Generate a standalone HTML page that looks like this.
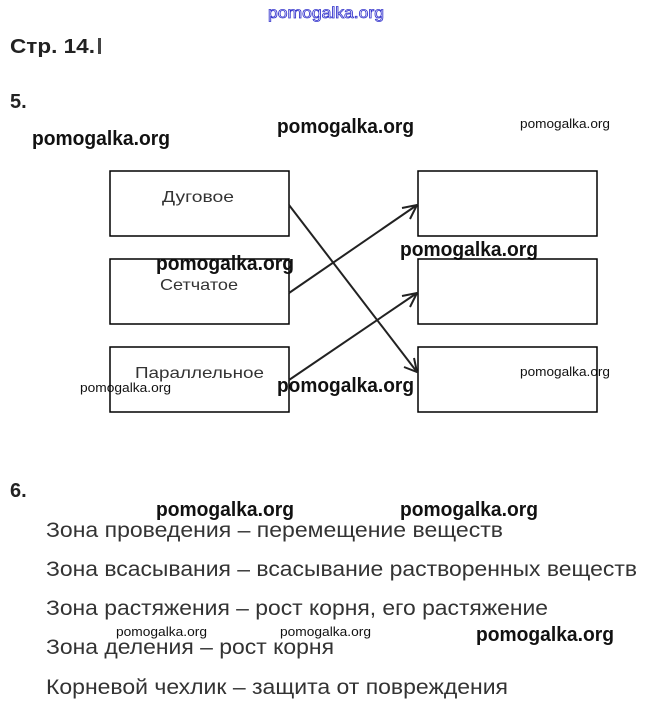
<!DOCTYPE html>
<html><head><meta charset="utf-8"><style>
html,body{margin:0;padding:0;background:#fff;}
svg{display:block;}
</style></head><body>
<svg width="648" height="712" viewBox="0 0 648 712" xmlns="http://www.w3.org/2000/svg" font-family="Liberation Sans, sans-serif">
<text x="268" y="18" font-size="16" fill="#fff" stroke="#3333cc" stroke-width="0.8" textLength="116" lengthAdjust="spacingAndGlyphs">pomogalka.org</text>
<text x="10" y="53" font-size="20" font-weight="bold" fill="#222" textLength="85" lengthAdjust="spacingAndGlyphs">Стр. 14.</text>
<rect x="98" y="38" width="3" height="16" fill="#444"/>
<text x="10" y="108" font-size="20" font-weight="bold" fill="#222">5.</text>
<g font-weight="bold" fill="#111">
<text x="32" y="145" font-size="20" textLength="138" lengthAdjust="spacingAndGlyphs">pomogalka.org</text>
<text x="277" y="133" font-size="20" textLength="137" lengthAdjust="spacingAndGlyphs">pomogalka.org</text>
<text x="400" y="256" font-size="20" textLength="138" lengthAdjust="spacingAndGlyphs">pomogalka.org</text>
<text x="277" y="392" font-size="20" textLength="137" lengthAdjust="spacingAndGlyphs">pomogalka.org</text>
<text x="156" y="516" font-size="20" textLength="138" lengthAdjust="spacingAndGlyphs">pomogalka.org</text>
<text x="400" y="516" font-size="20" textLength="138" lengthAdjust="spacingAndGlyphs">pomogalka.org</text>
<text x="476" y="641" font-size="20" textLength="138" lengthAdjust="spacingAndGlyphs">pomogalka.org</text>
</g>
<g fill="#111" font-size="13">
<text x="520" y="128" textLength="90" lengthAdjust="spacingAndGlyphs">pomogalka.org</text>
<text x="520" y="376" textLength="90" lengthAdjust="spacingAndGlyphs">pomogalka.org</text>
<text x="80" y="392" textLength="91" lengthAdjust="spacingAndGlyphs">pomogalka.org</text>
<text x="116" y="636" textLength="91" lengthAdjust="spacingAndGlyphs">pomogalka.org</text>
<text x="280" y="636" textLength="91" lengthAdjust="spacingAndGlyphs">pomogalka.org</text>
</g>
<g fill="none" stroke="#000" stroke-width="1.5">
<rect x="110" y="171" width="179" height="65"/>
<rect x="110" y="259" width="179" height="65"/>
<rect x="110" y="347" width="179" height="65"/>
<rect x="418" y="171" width="179" height="65"/>
<rect x="418" y="259" width="179" height="65"/>
<rect x="418" y="347" width="179" height="65"/>
</g>
<g fill="#333" font-size="16">
<text x="162" y="202" textLength="72" lengthAdjust="spacingAndGlyphs">Дуговое</text>
<text x="160" y="290" textLength="78" lengthAdjust="spacingAndGlyphs">Сетчатое</text>
<text x="135" y="378" textLength="129" lengthAdjust="spacingAndGlyphs">Параллельное</text>
</g>
<text x="156" y="270" font-size="20" font-weight="bold" fill="#111" textLength="138" lengthAdjust="spacingAndGlyphs">pomogalka.org</text>
<g stroke="#222" stroke-width="2" fill="none">
<line x1="289" y1="205" x2="417" y2="372"/>
<polyline points="404,367 417,372 414,358"/>
<line x1="289" y1="293" x2="417" y2="205"/>
<polyline points="402,208 417,205 410,219"/>
<line x1="289" y1="380" x2="417" y2="293"/>
<polyline points="402,296 417,293 410,307"/>
</g>
<text x="10" y="497" font-size="20" font-weight="bold" fill="#222">6.</text>
<g fill="#333" font-size="21">
<text x="46" y="537" textLength="457" lengthAdjust="spacingAndGlyphs">Зона проведения – перемещение веществ</text>
<text x="46" y="576" textLength="591" lengthAdjust="spacingAndGlyphs">Зона всасывания – всасывание растворенных веществ</text>
<text x="46" y="615" textLength="502" lengthAdjust="spacingAndGlyphs">Зона растяжения – рост корня, его растяжение</text>
<text x="46" y="654" textLength="288" lengthAdjust="spacingAndGlyphs">Зона деления – рост корня</text>
<text x="46" y="694" textLength="462" lengthAdjust="spacingAndGlyphs">Корневой чехлик – защита от повреждения</text>
</g>
</svg>
</body></html>
